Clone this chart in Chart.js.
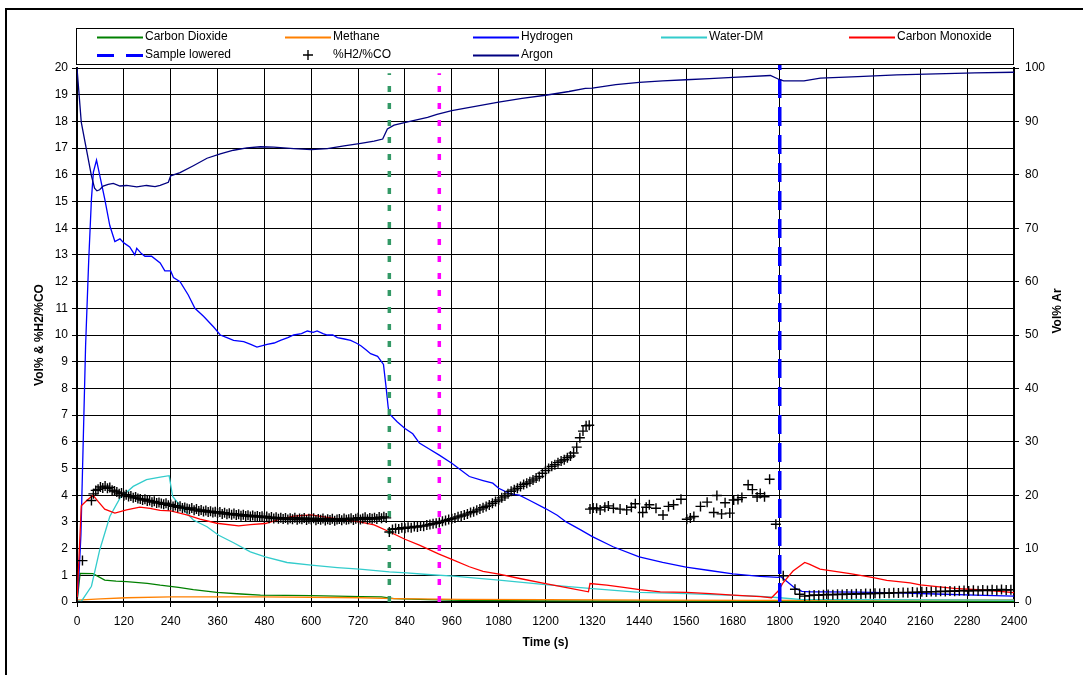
<!DOCTYPE html>
<html>
<head>
<meta charset="utf-8">
<title>Gas composition vs time</title>
<script src="https://cdn.jsdelivr.net/npm/chart.js@4.4.1/dist/chart.umd.min.js"></script>
<style>
  html, body { margin: 0; padding: 0; background: #fff; }
  #wrap { width: 1083px; height: 675px; }
</style>
</head>
<body>
<div id="wrap"><canvas id="c" width="1083" height="675"></canvas></div>
<script>
// ---- axis ticks ----
const timeTicks = [0, 120, 240, 360, 480, 600, 720, 840, 960, 1080, 1200, 1320, 1440, 1560, 1680, 1800, 1920, 2040, 2160, 2280, 2400];
const volTicks = [0, 1, 2, 3, 4, 5, 6, 7, 8, 9, 10, 11, 12, 13, 14, 15, 16, 17, 18, 19, 20];
const argonTicks = [0, 10, 20, 30, 40, 50, 60, 70, 80, 90, 100];

// ---- event markers (s) ----
const greenMarkTime = 800;
const magentaMarkTime = 928;
const sampleLoweredTime = 1800;

// ---- Carbon Dioxide (vol%) ----
const co2Time = [0, 8, 41, 71, 100, 127, 180, 213, 260, 298, 358, 420, 470, 600, 727, 780, 812, 900, 984, 1200, 1500, 1800, 2400];
const co2Pct  = [0, 1.07, 1.06, 0.82, 0.78, 0.76, 0.70, 0.63, 0.55, 0.46, 0.36, 0.30, 0.26, 0.24, 0.20, 0.19, 0.13, 0.09, 0.06, 0.04, 0.03, 0.03, 0.02];

// ---- Methane (vol%) ----
const ch4Time = [0, 60, 127, 240, 470, 727, 812, 984, 1200, 1500, 1750, 2000, 2400];
const ch4Pct  = [0.07, 0.12, 0.16, 0.19, 0.19, 0.16, 0.13, 0.10, 0.09, 0.07, 0.06, 0.07, 0.08];

// ---- Hydrogen (vol%) ----
const h2Time = [0, 5, 10, 22, 30, 37, 42, 50, 58, 71, 84, 97, 110, 120, 135, 148, 153, 165, 174, 191, 213, 225, 240, 247, 264, 285, 302, 324, 350, 367, 384, 401, 427, 445, 461, 475, 487, 505, 521, 540, 555, 575, 590, 605, 615, 630, 641, 655, 667, 685, 701, 715, 727, 740, 752, 770, 785, 792, 797, 800, 820, 840, 860, 877, 900, 928, 960, 1005, 1040, 1065, 1080, 1110, 1133, 1160, 1200, 1230, 1253, 1290, 1320, 1373, 1440, 1500, 1560, 1620, 1680, 1749, 1797, 1803, 1820, 1840, 1857, 1880, 1920, 2000, 2100, 2200, 2300, 2400];
const h2Pct  = [0, 1.0, 2.5, 9.6, 12.8, 15.1, 16.1, 16.55, 16.0, 15.1, 14.1, 13.5, 13.6, 13.45, 13.3, 13.0, 13.25, 13.05, 12.95, 12.95, 12.7, 12.4, 12.4, 12.15, 12.0, 11.5, 11.0, 10.7, 10.3, 10.0, 9.9, 9.8, 9.75, 9.65, 9.55, 9.6, 9.65, 9.7, 9.8, 9.9, 10.0, 10.05, 10.15, 10.1, 10.15, 10.05, 10.0, 10.0, 9.9, 9.85, 9.8, 9.7, 9.6, 9.45, 9.3, 9.2, 8.9, 8.0, 7.3, 7.05, 6.75, 6.5, 6.3, 5.95, 5.75, 5.5, 5.2, 4.7, 4.55, 4.45, 4.26, 4.05, 4.0, 3.8, 3.5, 3.25, 3.0, 2.7, 2.45, 2.07, 1.69, 1.48, 1.31, 1.18, 1.05, 0.96, 0.92, 0.95, 0.75, 0.51, 0.40, 0.38, 0.38, 0.37, 0.34, 0.30, 0.26, 0.22];

// ---- Water-DM (vol%) ----
const waterTime = [0, 11, 37, 58, 84, 110, 144, 178, 213, 236, 245, 273, 298, 333, 363, 401, 444, 482, 538, 600, 667, 724, 800, 844, 898, 964, 1081, 1200, 1320, 1441, 1561, 1681, 1751, 1800, 1851, 2000, 2200, 2400];
const waterPct  = [0.04, 0.02, 0.59, 1.94, 3.2, 3.89, 4.33, 4.58, 4.68, 4.73, 3.95, 3.45, 3.07, 2.82, 2.5, 2.22, 1.88, 1.69, 1.48, 1.38, 1.29, 1.23, 1.13, 1.09, 1.03, 0.97, 0.82, 0.65, 0.50, 0.36, 0.31, 0.25, 0.21, 0.16, 0.10, 0.09, 0.08, 0.07];

// ---- Carbon Monoxide (vol%) ----
const coTime = [0, 11, 25, 41, 55, 71, 97, 127, 161, 187, 213, 240, 281, 315, 358, 414, 444, 482, 521, 555, 600, 641, 692, 724, 761, 800, 840, 877, 926, 960, 1005, 1040, 1081, 1134, 1200, 1254, 1310, 1314, 1357, 1400, 1441, 1494, 1561, 1622, 1681, 1751, 1779, 1796, 1809, 1834, 1864, 1877, 1903, 1920, 1980, 2040, 2074, 2134, 2160, 2246, 2331, 2400];
const coPct  = [0, 3.6, 3.8, 4.0, 3.75, 3.48, 3.33, 3.45, 3.55, 3.51, 3.43, 3.41, 3.26, 3.1, 2.95, 2.85, 2.9, 2.94, 3.1, 3.22, 3.26, 3.17, 3.07, 3.0, 2.89, 2.63, 2.35, 2.13, 1.8, 1.6, 1.32, 1.15, 1.04, 0.88, 0.69, 0.54, 0.38, 0.69, 0.63, 0.55, 0.46, 0.38, 0.36, 0.31, 0.26, 0.20, 0.16, 0.41, 0.73, 1.16, 1.48, 1.41, 1.23, 1.19, 1.06, 0.91, 0.81, 0.72, 0.64, 0.51, 0.44, 0.35];

// ---- %H2/%CO ratio ----
const ratioTime = [
  0, 14, 37,
  42, 48, 54, 60, 66, 72, 78, 84, 90, 96,
  102, 108, 114, 120, 126, 132, 138, 144, 150, 156,
  162, 168, 174, 180, 186, 192, 198, 204, 210, 216,
  222, 228, 234, 240, 246, 252, 258, 264, 270, 276,
  282, 288, 294, 300, 306, 312, 318, 324, 330, 336,
  342, 348, 354, 360, 366, 372, 378, 384, 390, 396,
  402, 408, 414, 420, 426, 432, 438, 444, 450, 456,
  462, 468, 474, 480, 486, 492, 498, 504, 510, 516,
  522, 528, 534, 540, 546, 552, 558, 564, 570, 576,
  582, 588, 594, 600, 606, 612, 618, 624, 630, 636,
  642, 648, 654, 660, 666, 672, 678, 684, 690, 696,
  702, 708, 714, 720, 726, 732, 738, 744, 750, 756,
  762, 768, 774, 780, 786, 792,
  800, 808, 816, 824, 832, 840, 848, 856, 864, 872,
  880, 888, 896, 904, 912, 920, 928, 936, 944, 952,
  960, 968, 976, 984, 992, 1000, 1008, 1016, 1024, 1032,
  1040, 1048, 1056, 1064, 1072, 1080, 1088, 1096, 1104, 1112,
  1120, 1128, 1136, 1144, 1152, 1160, 1168, 1176, 1184, 1192,
  1200, 1208, 1216, 1224, 1232, 1240, 1248, 1256, 1264, 1272,
  1280, 1288, 1296, 1304, 1312,
  1314, 1322, 1331, 1340, 1352, 1361, 1374, 1391, 1408, 1420,
  1430, 1449, 1458, 1466, 1483, 1501, 1515, 1528, 1547, 1562,
  1571, 1580, 1597, 1614, 1631, 1639, 1651, 1660, 1672, 1682,
  1693, 1703, 1719, 1730, 1742, 1750, 1761, 1774, 1790,
  1809, 1839, 1851, 1864,
  1876, 1888, 1900, 1912, 1924, 1936, 1948, 1960, 1972, 1984,
  1996, 2008, 2020, 2032, 2044, 2056, 2068, 2080, 2092, 2104,
  2116, 2128, 2140, 2152, 2164, 2176, 2188, 2200, 2212, 2224,
  2236, 2248, 2260, 2272, 2284, 2296, 2308, 2320, 2332, 2344,
  2356, 2368, 2380, 2392
];
const ratioValue = [
  0, 1.55, 3.8,
  4.05, 4.18, 4.22, 4.31, 4.27, 4.34, 4.26, 4.29, 4.19, 4.16,
  4.12, 4.05, 4.08, 3.98, 4.02, 3.95, 3.97, 3.90, 3.93, 3.88,
  3.86, 3.82, 3.85, 3.78, 3.80, 3.74, 3.77, 3.71, 3.73, 3.69,
  3.66, 3.70, 3.62, 3.65, 3.58, 3.61, 3.55, 3.59, 3.52, 3.54,
  3.50, 3.47, 3.52, 3.44, 3.48, 3.41, 3.45, 3.39, 3.43, 3.37,
  3.40, 3.35, 3.38, 3.33, 3.37, 3.30, 3.34, 3.29, 3.32, 3.27,
  3.31, 3.26, 3.29, 3.23, 3.27, 3.22, 3.25, 3.20, 3.24, 3.19,
  3.22, 3.18, 3.21, 3.16, 3.20, 3.14, 3.18, 3.13, 3.17, 3.12,
  3.16, 3.11, 3.15, 3.09, 3.14, 3.10, 3.16, 3.08, 3.13, 3.10,
  3.15, 3.07, 3.12, 3.09, 3.14, 3.06, 3.11, 3.08, 3.13, 3.05,
  3.10, 3.07, 3.12, 3.04, 3.09, 3.11, 3.06, 3.13, 3.08, 3.10,
  3.14, 3.07, 3.12, 3.16, 3.09, 3.13, 3.17, 3.10, 3.15, 3.12,
  3.16, 3.11, 3.18, 3.14, 3.19, 3.15,
  2.62, 2.72, 2.75, 2.73, 2.78, 2.76, 2.80, 2.78, 2.83, 2.81,
  2.85, 2.84, 2.88, 2.90, 2.93, 2.95, 2.98, 3.02, 3.05, 3.09,
  3.12, 3.15, 3.19, 3.22, 3.26, 3.30, 3.35, 3.38, 3.44, 3.48,
  3.53, 3.58, 3.63, 3.70, 3.76, 3.82, 3.90, 3.97, 4.05, 4.15,
  4.20, 4.26, 4.33, 4.40, 4.45, 4.50, 4.57, 4.64, 4.70, 4.82,
  4.92, 5.00, 5.08, 5.14, 5.22, 5.28, 5.33, 5.40, 5.47, 5.58,
  5.80, 6.15, 6.40, 6.60, 6.62,
  3.48, 3.52, 3.51, 3.45, 3.55, 3.60, 3.51, 3.48, 3.45, 3.55,
  3.68, 3.35, 3.55, 3.64, 3.51, 3.26, 3.58, 3.64, 3.85, 3.10,
  3.15, 3.20, 3.58, 3.74, 3.35, 3.99, 3.30, 3.72, 3.33, 3.82,
  3.84, 3.91, 4.39, 4.21, 3.93, 4.06, 3.94, 4.60, 2.91,
  0.98, 0.48, 0.29, 0.22,
  0.24, 0.26, 0.25, 0.27, 0.28, 0.27, 0.29, 0.28, 0.30, 0.29,
  0.31, 0.30, 0.32, 0.31, 0.33, 0.32, 0.34, 0.33, 0.35, 0.34,
  0.36, 0.35, 0.37, 0.36, 0.38, 0.37, 0.39, 0.38, 0.40, 0.39,
  0.41, 0.40, 0.42, 0.43, 0.41, 0.44, 0.42, 0.45, 0.43, 0.46,
  0.44, 0.47, 0.45, 0.46
];

// ---- Argon (vol%, right axis) ----
const argonTime = [0, 11, 24, 37, 45, 51, 58, 67, 80, 93, 110, 127, 153, 178, 200, 213, 234, 240, 264, 298, 333, 367, 401, 435, 470, 504, 555, 600, 641, 684, 727, 761, 783, 795, 812, 847, 898, 922, 960, 1020, 1080, 1140, 1200, 1260, 1302, 1320, 1380, 1440, 1500, 1560, 1620, 1680, 1776, 1800, 1810, 1862, 1904, 2000, 2100, 2200, 2300, 2400];
const argonPct  = [100, 89.8, 84.8, 79.8, 77.5, 77.0, 77.2, 77.9, 78.2, 78.4, 77.9, 78.0, 77.75, 78.0, 77.8, 78.0, 78.6, 79.8, 80.4, 81.7, 83.1, 83.9, 84.6, 85.05, 85.25, 85.2, 84.9, 84.7, 84.9, 85.4, 85.9, 86.3, 86.7, 88.6, 89.3, 89.9, 90.75, 91.3, 92.0, 92.8, 93.6, 94.3, 94.9, 95.6, 96.2, 96.25, 96.9, 97.3, 97.6, 97.8, 98.0, 98.25, 98.6, 97.8, 97.6, 97.6, 98.1, 98.4, 98.7, 98.9, 99.1, 99.2];

const pts = (ts, vs) => ts.map((t, i) => ({ x: t, y: vs[i] }));
const vertical = (t, top) => [{ x: t, y: 0 }, { x: t, y: top }];

function lineSet(label, ts, vs, color, order, axis) {
  return {
    label, data: pts(ts, vs), borderColor: color, backgroundColor: color,
    borderWidth: 1.3, pointRadius: 0, tension: 0, fill: false,
    yAxisID: axis || 'y', order
  };
}

const FONT = "'Liberation Sans', Arial, Helvetica, sans-serif";
Chart.defaults.font.family = FONT;
Chart.defaults.font.size = 12;
Chart.defaults.color = '#000';

const datasets = [
  lineSet('Carbon Dioxide', co2Time, co2Pct, '#008000', 9),
  lineSet('Methane', ch4Time, ch4Pct, '#FF8000', 8),
  lineSet('Hydrogen', h2Time, h2Pct, '#0000FF', 7),
  lineSet('Water-DM', waterTime, waterPct, '#33CCCC', 6),
  lineSet('Carbon Monoxide', coTime, coPct, '#FF0000', 5),
  {
    label: 'Sample lowered', data: vertical(sampleLoweredTime, 20.25),
    borderColor: '#0000FF', borderWidth: 3.5, borderDash: [19, 9],
    pointRadius: 0, yAxisID: 'y', order: 2, clip: false
  },
  {
    label: '%H2/%CO', data: pts(ratioTime, ratioValue), showLine: false,
    pointStyle: 'cross', pointRadius: 5, borderColor: '#000', backgroundColor: '#000',
    borderWidth: 1.4, yAxisID: 'y', order: 0
  },
  lineSet('Argon', argonTime, argonPct, '#000080', 1, 'y2'),
  {
    label: 'green marker', data: vertical(greenMarkTime, 19.8),
    borderColor: '#339966', borderWidth: 3.5, borderDash: [6, 11],
    pointRadius: 0, yAxisID: 'y', order: 3
  },
  {
    label: 'magenta marker', data: vertical(magentaMarkTime, 19.8),
    borderColor: '#FF00FF', borderWidth: 3.5, borderDash: [6, 11],
    pointRadius: 0, yAxisID: 'y', order: 3
  }
];

// legend layout: five columns, two rows, inside a framed box
const legendCols = [145, 333, 521, 709, 897];
const legendRows = [37, 55];
const legendEntries = [
  { ds: 0, col: 0, row: 0 }, { ds: 1, col: 1, row: 0 }, { ds: 2, col: 2, row: 0 },
  { ds: 3, col: 3, row: 0 }, { ds: 4, col: 4, row: 0 },
  { ds: 5, col: 0, row: 1 }, { ds: 6, col: 1, row: 1 }, { ds: 7, col: 2, row: 1 }
];

const framePlugin = {
  id: 'frame',
  beforeDraw(chart) {
    const ctx = chart.ctx;
    ctx.save();
    ctx.fillStyle = '#fff';
    ctx.fillRect(0, 0, chart.width, chart.height);
    ctx.strokeStyle = '#000';
    ctx.lineWidth = 2;
    ctx.strokeRect(6, 9, 1300, 900);
    ctx.restore();
  },
  afterDraw(chart) {
    const ctx = chart.ctx;
    ctx.save();
    // legend box
    ctx.fillStyle = '#fff';
    ctx.fillRect(76.5, 28.5, 937, 36);
    ctx.strokeStyle = '#000';
    ctx.lineWidth = 1;
    ctx.strokeRect(76.5, 28.5, 937, 36);
    ctx.font = '12px ' + FONT;
    ctx.textBaseline = 'middle';
    ctx.textAlign = 'left';
    legendEntries.forEach(e => {
      const d = chart.data.datasets[e.ds];
      const tx = legendCols[e.col];
      const y = legendRows[e.row];
      const x0 = tx - 48, x1 = tx - 2;
      if (d.showLine === false) {
        ctx.strokeStyle = d.borderColor;
        ctx.lineWidth = 1.4;
        const cx = (x0 + x1) / 2;
        ctx.beginPath();
        ctx.moveTo(cx - 5, y); ctx.lineTo(cx + 5, y);
        ctx.moveTo(cx, y - 5); ctx.lineTo(cx, y + 5);
        ctx.stroke();
      } else {
        ctx.strokeStyle = d.borderColor;
        ctx.lineWidth = d.borderDash ? 3 : 2;
        ctx.setLineDash(d.borderDash ? [17, 12] : []);
        ctx.beginPath();
        ctx.moveTo(x0, y + 0.5); ctx.lineTo(x1, y + 0.5);
        ctx.stroke();
        ctx.setLineDash([]);
      }
      ctx.fillStyle = '#000';
      ctx.fillText(d.label, tx, y);
    });
    // right axis title, reading bottom to top
    ctx.font = 'bold 12px ' + FONT;
    ctx.textAlign = 'center';
    ctx.translate(1058, 311);
    ctx.rotate(-Math.PI / 2);
    ctx.fillText('Vol% Ar', 0, 0);
    ctx.restore();
  }
};

const plain = v => String(v);

new Chart(document.getElementById('c'), {
  type: 'line',
  data: { datasets },
  plugins: [framePlugin],
  options: {
    responsive: false,
    animation: false,
    events: [],
    layout: { padding: { top: 68, left: 0, right: 0, bottom: 0 } },
    plugins: { legend: { display: false }, tooltip: { enabled: false } },
    scales: {
      x: {
        type: 'linear', min: 0, max: 2400,
        afterBuildTicks: s => { s.ticks = timeTicks.map(v => ({ value: v })); },
        afterFit: s => { s.height = 73; },
        ticks: { autoSkip: false, maxRotation: 0, padding: 7, color: '#000', font: { size: 12 }, callback: plain },
        grid: { color: '#000', lineWidth: 1, tickLength: 5 },
        border: { color: '#000', width: 2 },
        title: { display: true, text: 'Time (s)', color: '#000', font: { size: 12, weight: 'bold' }, padding: { top: 0, bottom: 25 } }
      },
      y: {
        position: 'left', min: 0, max: 20,
        afterBuildTicks: s => { s.ticks = volTicks.map(v => ({ value: v })); },
        afterFit: s => { s.width = 77; },
        ticks: { autoSkip: false, padding: 4, color: '#000', font: { size: 12 }, callback: plain },
        grid: { color: '#000', lineWidth: 1, tickLength: 5 },
        border: { color: '#000', width: 2 },
        title: { display: true, text: 'Vol% & %H2/%CO', color: '#000', font: { size: 12, weight: 'bold' }, padding: { top: 32, bottom: 0 } }
      },
      y2: {
        position: 'right', min: 0, max: 100,
        afterBuildTicks: s => { s.ticks = argonTicks.map(v => ({ value: v })); },
        afterFit: s => { s.width = 69; },
        ticks: { autoSkip: false, padding: 6, color: '#000', font: { size: 12 }, callback: plain },
        grid: { display: true, drawOnChartArea: false, color: '#000', lineWidth: 1, tickLength: 5 },
        border: { color: '#000', width: 2 }
      }
    }
  }
});
</script>
</body>
</html>
